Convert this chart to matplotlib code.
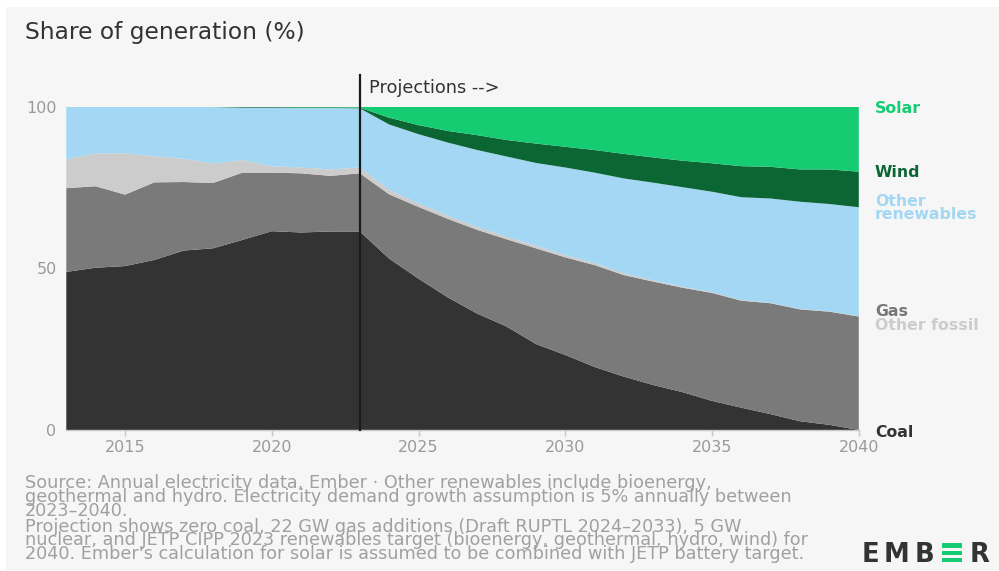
import matplotlib
matplotlib.use("Agg")
import matplotlib.pyplot as plt
from matplotlib.patches import Rectangle

# ---------------- data ----------------
years = list(range(2013, 2041))

coal = [48.9, 50.2, 50.7, 52.6, 55.5, 56.2, 58.8, 61.5, 61.1, 61.4, 61.4,
        53.0, 46.8, 41.0, 36.0, 32.0, 26.6, 23.2, 19.5, 16.5, 13.9, 11.7,
        9.0, 6.9, 4.9, 2.7, 1.6, 0.0]
gas = [25.9, 25.2, 22.1, 24.0, 21.2, 20.2, 20.8, 18.1, 18.3, 17.2, 18.0,
       19.9, 22.2, 24.3, 25.9, 27.0, 29.6, 30.2, 31.5, 31.4, 32.0, 32.3,
       33.4, 33.1, 34.3, 34.6, 35.0, 35.1]
other_fossil = [9.0, 10.1, 12.8, 8.1, 7.2, 6.0, 3.9, 2.0, 1.8, 2.0, 1.8,
                1.4, 1.1, 1.0, 0.9, 0.8, 0.8, 0.7, 0.6, 0.5, 0.4, 0.3,
                0.2, 0.2, 0.1, 0.1, 0.1, 0.1]
other_renewables = [16.2, 14.5, 14.4, 15.3, 16.1, 17.5, 16.2, 18.1, 18.4, 19.0, 18.3,
                    20.2, 21.4, 22.6, 23.8, 24.8, 25.6, 27.1, 28.0, 29.4, 30.2, 30.8,
                    31.1, 31.8, 32.3, 33.2, 33.2, 33.7]
wind = [0.0, 0.0, 0.0, 0.0, 0.0, 0.1, 0.2, 0.2, 0.2, 0.2, 0.2,
        2.1, 2.8, 3.6, 4.6, 5.1, 6.0, 6.4, 7.0, 7.6, 7.8, 8.2,
        8.8, 9.6, 9.8, 10.0, 10.7, 11.0]
solar = [0.0, 0.0, 0.0, 0.0, 0.0, 0.0, 0.1, 0.1, 0.2, 0.2, 0.3,
         3.4, 5.7, 7.5, 8.8, 10.3, 11.4, 12.4, 13.4, 14.6, 15.7, 16.7,
         17.5, 18.4, 18.6, 19.4, 19.4, 20.1]

series_names = ["Coal", "Gas", "Other fossil", "Other renewables", "Wind", "Solar"]
colors = ["#333333", "#7a7a7a", "#cccccc", "#a3d7f3", "#0b6634", "#16cc73"]

xticks = [2015, 2020, 2025, 2030, 2035, 2040]
yticks = [0, 50, 100]
projection_year = 2023

footer_par1 = ("Source: Annual electricity data, Ember · Other renewables include bioenergy,\n"
               "geothermal and hydro. Electricity demand growth assumption is 5% annually between\n"
               "2023–2040.")
footer_par2 = ("Projection shows zero coal, 22 GW gas additions (Draft RUPTL 2024–2033), 5 GW\n"
               "nuclear, and JETP CIPP 2023 renewables target (bioenergy, geothermal, hydro, wind) for\n"
               "2040. Ember's calculation for solar is assumed to be combined with JETP battery target.")

# ---------------- figure ----------------
W, H = 999, 571
plt.rcParams['font.family'] = ['DejaVu Sans']
fig = plt.figure(figsize=(W / 100, H / 100), dpi=100, facecolor="white")
BG = "#f6f6f6"
fig.patches.append(Rectangle((6 / W, 1 / H), 1 - 6 / W, (H - 8) / H,
                             transform=fig.transFigure, facecolor=BG,
                             edgecolor="none", zorder=-10))


def px(x, y):
    return x / W, 1 - y / H


def ftext(x, y, s, **kw):
    fx, fy = px(x, y)
    return fig.text(fx, fy, s, **kw)


left, right, top, bottom = 66.3, 858.8, 106.7, 430.0
ax = fig.add_axes([left / W, 1 - bottom / H, (right - left) / W, (bottom - top) / H])
ax.set_facecolor(BG)
ax.stackplot(years, coal, gas, other_fossil, other_renewables, wind, solar,
             colors=colors, labels=series_names, linewidth=0)
ax.set_xlim(2013, 2040)
ax.set_ylim(0, 100)

for s in ["top", "right", "left"]:
    ax.spines[s].set_visible(False)
ax.spines["bottom"].set_color("#c8c8c8")
ax.spines["bottom"].set_linewidth(1.0)
ax.spines["bottom"].set_zorder(5)

ax.set_xticks(xticks)
ax.set_xticklabels([str(t) for t in xticks])
ax.set_yticks(yticks)
ax.set_yticklabels([str(t) for t in yticks])
ax.tick_params(axis="x", length=4, width=1, color="#c8c8c8", labelcolor="#9a9a9a",
               labelsize=11.5, pad=3)
ax.tick_params(axis="y", length=0, labelcolor="#9a9a9a", labelsize=11.5, pad=7)

# projection divider
ax.plot([projection_year, projection_year], [0, 109.8], color="#1a1a1a",
        linewidth=1.6, clip_on=False, zorder=6)
ftext(369, 93.3, "Projections -->", fontsize=12.8, color="#333333", va="baseline", ha="left")

# title
ftext(25, 38.5, "Share of generation (%)", fontsize=16.8, color="#333333",
      va="baseline", ha="left")

# right-hand labels
lab_kw = dict(fontsize=11.3, fontweight="bold", va="baseline", ha="left")
ftext(875, 112.8, "Solar", color="#16cc73", **lab_kw)
ftext(875, 176.7, "Wind", color="#0b6634", **lab_kw)
ftext(875, 206.2, "Other", color="#a3d7f3", **lab_kw)
ftext(875, 219.3, "renewables", color="#a3d7f3", **lab_kw)
ftext(875, 315.6, "Gas", color="#777777", **lab_kw)
ftext(875, 330.2, "Other fossil", color="#cccccc", **lab_kw)
ftext(875, 436.7, "Coal", color="#333333", **lab_kw)

# footer (two paragraphs, tight line spacing as in the source;
# y given as the baseline of the last line of each paragraph)
foot_kw = dict(fontsize=12.7, color="#a0a0a0", va="baseline", ha="left", linespacing=0.69)
ftext(25, 515.5, footer_par1, **foot_kw)
ftext(25, 559, footer_par2, **foot_kw)

# EMBER logo
logo_kw = dict(fontsize=18.6, fontweight="bold", color="#333333", va="baseline", ha="left")
ftext(862, 561.7, "E", **logo_kw)
ftext(884, 561.7, "M", **logo_kw)
ftext(915, 561.7, "B", **logo_kw)
ftext(969.5, 561.7, "R", **logo_kw)
for y0, y1 in [(543.3, 547.7), (550.5, 554.9), (557.5, 561.7)]:
    fx, fy = px(942.3, y1)
    fig.patches.append(Rectangle((fx, fy), 20 / W, (y1 - y0) / H,
                                 transform=fig.transFigure, facecolor="#16cc73",
                                 edgecolor="none"))

fig.savefig("out.png", dpi=100, facecolor=fig.get_facecolor())
